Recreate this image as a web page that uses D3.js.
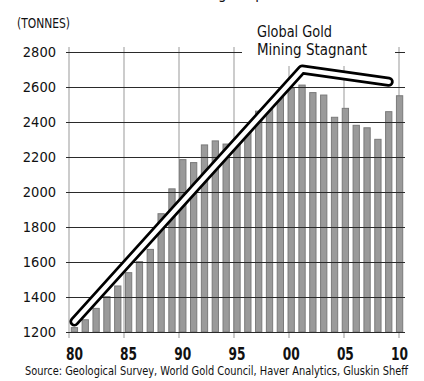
<!DOCTYPE html>
<html>
<head>
<meta charset="utf-8">
<script src="https://cdn.jsdelivr.net/npm/d3@7"></script>
<style>
  html, body { margin: 0; padding: 0; background: #fff; }
  svg { display: block; }
  text { font-family: "DejaVu Sans Condensed", "DejaVu Sans", sans-serif; fill: #111; }
</style>
</head>
<body>
<svg id="chart" width="424" height="381"></svg>
<script>
// ---- data ----
const years = d3.range(1980, 2011);
const production = [
  1225, 1270, 1335, 1402, 1463, 1539, 1602, 1672, 1876, 2018,
  2185, 2168, 2269, 2292, 2274, 2280, 2370, 2462, 2500, 2570,
  2592, 2611, 2568, 2554, 2427, 2478, 2381, 2367, 2301, 2459,
  2550
];
const trendYears = [1980, 2001, 2009];
const trendValues = [1260, 2700, 2630];
const yTicks = [1200, 1400, 1600, 1800, 2000, 2200, 2400, 2600, 2800];
const xTickYears = [1980, 1985, 1990, 1995, 2000, 2005, 2010];
const xTickLabels = ["80", "85", "90", "95", "00", "05", "10"];
const unitLabel = "(TONNES)";
const titleText = "Gold Mining Output";
const annotationLines = ["Global Gold", "Mining Stagnant"];
const sourceText = "Source: Geological Survey, World Gold Council, Haver Analytics, Gluskin Sheff";

// ---- layout ----
const svg = d3.select("#chart");
const mLeft = 69, mRight = 405, mTop = 52, mBottom = 332;

const y = d3.scaleLinear().domain([1200, 2800]).range([mBottom, mTop]);
const xLin = d3.scaleLinear().domain([1980, 2010]).range([mLeft, 399]);
const xBand = d3.scaleBand().domain(years).range([mLeft, mRight])
  .paddingInner(0.42).paddingOuter(0.21);

// partial title (cut off at top, as in the reference)
svg.append("text").attr("x", 212).attr("y", -1)
  .attr("text-anchor", "middle").attr("font-size", 15).text(titleText);

// vertical gridlines + bottom ticks
svg.append("g").selectAll("line").data(xTickYears).join("line")
  .attr("x1", d => xLin(d)).attr("x2", d => xLin(d))
  .attr("y1", 47).attr("y2", mBottom + 6)
  .attr("stroke", "#aaa").attr("stroke-width", 1.2);

// bars
svg.append("g").selectAll("rect").data(years).join("rect")
  .attr("x", d => xBand(d))
  .attr("width", xBand.bandwidth())
  .attr("y", (d, i) => y(production[i]))
  .attr("height", (d, i) => y(1200) - y(production[i]))
  .attr("fill", "#9a9a9a").attr("stroke", "#7a7a7a").attr("stroke-width", 1);

// horizontal gridlines
svg.append("g").selectAll("line").data(yTicks).join("line")
  .attr("x1", 66).attr("x2", mRight)
  .attr("y1", d => Math.round(y(d)) + 0.5).attr("y2", d => Math.round(y(d)) + 0.5)
  .attr("stroke", "#2a2a2a").attr("stroke-width", 1);

// y tick labels
svg.append("g").selectAll("text").data(yTicks).join("text")
  .attr("x", 56).attr("y", d => y(d) + 5)
  .attr("text-anchor", "end").attr("font-size", 14.5)
  .text(d => d);

// unit label
svg.append("text").attr("x", 17).attr("y", 28)
  .attr("font-size", 14).attr("textLength", 53).attr("lengthAdjust", "spacingAndGlyphs")
  .text(unitLabel);

// x tick labels
svg.append("g").selectAll("text").data(xTickYears).join("text")
  .attr("x", d => xBand(d) + xBand.bandwidth() / 2 - 8.5)
  .attr("y", 360)
  .attr("font-size", 18).attr("font-weight", "bold")
  .attr("textLength", 17).attr("lengthAdjust", "spacingAndGlyphs")
  .text((d, i) => xTickLabels[i]);

// annotation box
svg.append("rect").attr("x", 242).attr("y", 18).attr("width", 153).attr("height", 48)
  .attr("fill", "#fff");
svg.append("text").attr("x", 257).attr("y", 37)
  .attr("font-size", 16).attr("textLength", 75).attr("lengthAdjust", "spacingAndGlyphs")
  .text(annotationLines[0]);
svg.append("text").attr("x", 257).attr("y", 55)
  .attr("font-size", 16).attr("textLength", 110).attr("lengthAdjust", "spacingAndGlyphs")
  .text(annotationLines[1]);

// trend line (cased)
const line = d3.line()
  .x((d, i) => xBand(trendYears[i]) + xBand.bandwidth() / 2)
  .y((d, i) => y(trendValues[i]));
svg.append("path").datum(trendValues).attr("d", line)
  .attr("fill", "none").attr("stroke", "#000").attr("stroke-width", 10)
  .attr("stroke-linecap", "round").attr("stroke-linejoin", "round");
svg.append("path").datum(trendValues).attr("d", line)
  .attr("fill", "none").attr("stroke", "#fff").attr("stroke-width", 4.5)
  .attr("stroke-linecap", "round").attr("stroke-linejoin", "round");

// source
svg.append("text").attr("x", 25).attr("y", 375)
  .attr("font-size", 11.5).attr("textLength", 383).attr("lengthAdjust", "spacingAndGlyphs")
  .text(sourceText);
</script>
</body>
</html>
